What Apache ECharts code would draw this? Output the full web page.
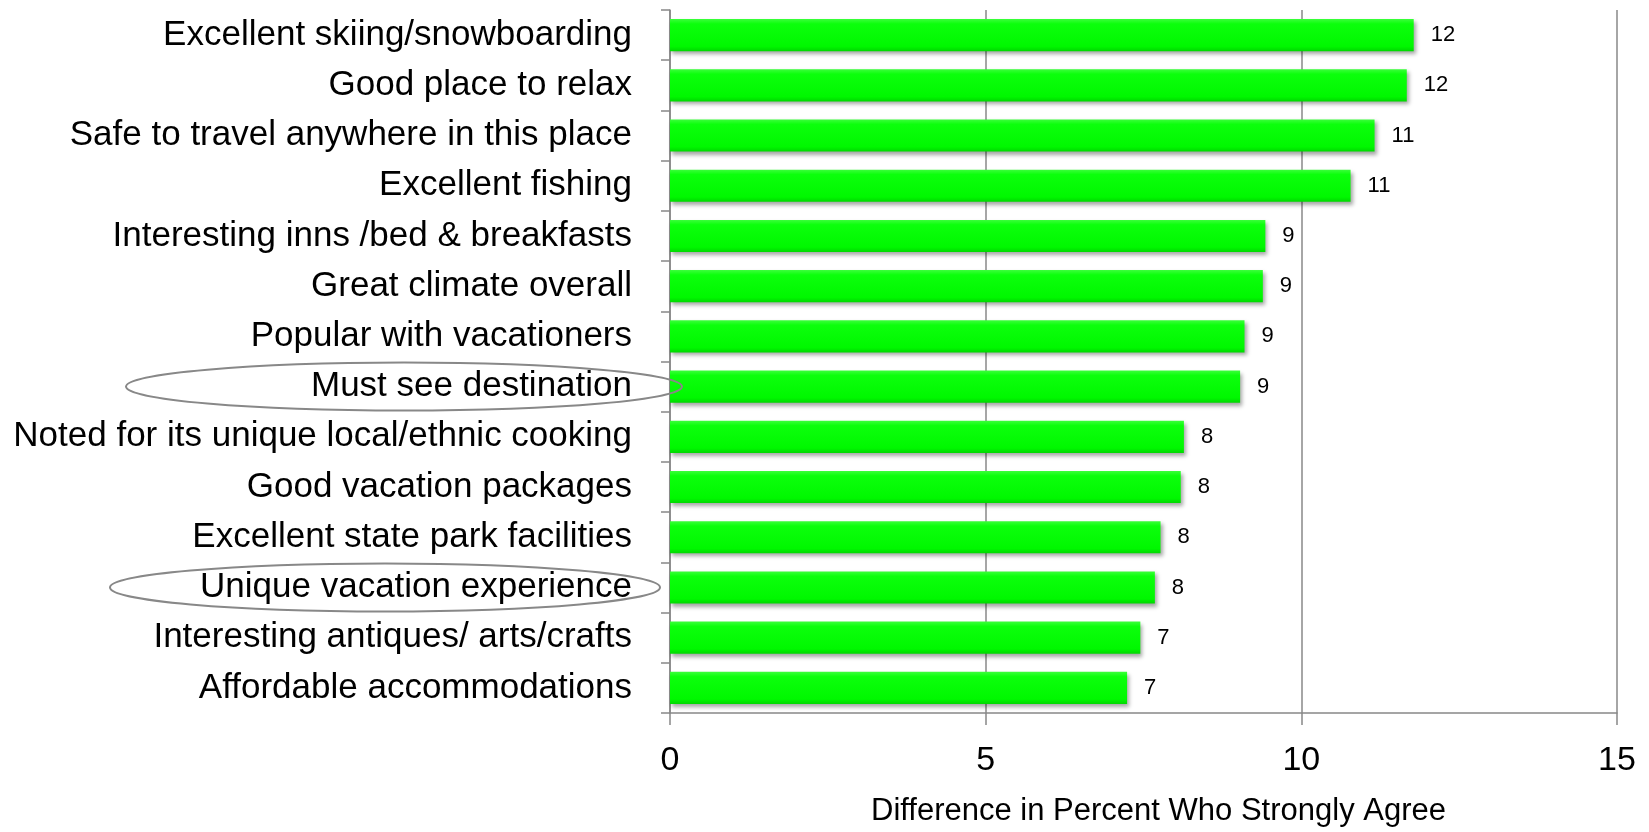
<!DOCTYPE html>
<html><head><meta charset="utf-8">
<script src="https://cdn.jsdelivr.net/npm/echarts@6/dist/echarts.min.js"></script>
<style>html,body{margin:0;padding:0;background:#fff}#c{width:1649px;height:832px}</style>
</head><body><div id="c"></div>
<script>
const categories = [
  "Excellent skiing/snowboarding",
  "Good place to relax",
  "Safe to travel anywhere in this place",
  "Excellent fishing",
  "Interesting inns /bed & breakfasts",
  "Great climate overall",
  "Popular with vacationers",
  "Must see destination",
  "Noted for its unique local/ethnic cooking",
  "Good vacation packages",
  "Excellent state park facilities",
  "Unique vacation experience",
  "Interesting antiques/ arts/crafts",
  "Affordable accommodations"
];
const values = [11.78, 11.67, 11.16, 10.78, 9.43, 9.39, 9.10, 9.03, 8.14, 8.09, 7.77, 7.68, 7.45, 7.24];
const xTicks = [0, 5, 10, 15];
const highlighted = ["Must see destination", "Unique vacation experience"];
const axisTitle = "Difference in Percent Who Strongly Agree";

const chart = echarts.init(document.getElementById('c'));
const gridLeft = 670, gridRight = 32;
chart.setOption({
  animation: false,
  grid: {left: gridLeft, right: gridRight, top: 10, bottom: 119, containLabel: false, outerBoundsMode: 'none'},
  xAxis: {
    type: 'value', min: xTicks[0], max: xTicks[xTicks.length-1], interval: 5,
    name: axisTitle, nameLocation: 'middle', nameGap: 83,
    nameTextStyle: {fontFamily: 'Liberation Sans', fontSize: 31, color: '#000', padding: [0, 0, 0, 30]},
    axisLine: {show: true, lineStyle: {color: '#888', width: 1.5}},
    axisTick: {show: true, length: 12, lineStyle: {color: '#888', width: 1.5}},
    axisLabel: {fontFamily: 'Liberation Sans', fontSize: 34, color: '#000', margin: 31},
    splitLine: {show: true, lineStyle: {color: '#888', width: 1.5}}
  },
  yAxis: {
    type: 'category', data: categories, inverse: true,
    axisLine: {show: true, lineStyle: {color: '#888', width: 1.5}},
    axisTick: {show: true, length: 9, lineStyle: {color: '#888', width: 1.5}},
    axisLabel: {fontFamily: 'Liberation Sans', fontSize: 35, color: '#000', margin: 38}
  },
  series: [{
    type: 'bar', data: values, barCategoryGap: '36%',
    itemStyle: {
      color: new echarts.graphic.LinearGradient(0, 0, 0, 1, [
        {offset: 0, color: '#3aff3a'}, {offset: 0.15, color: '#0cff0c'},
        {offset: 0.85, color: '#00f800'}, {offset: 1, color: '#00d800'}]),
      shadowColor: 'rgba(0,0,0,0.35)', shadowBlur: 4, shadowOffsetX: 2, shadowOffsetY: 3
    },
    label: {show: true, position: 'right', distance: 17, fontFamily: 'Liberation Sans', fontSize: 22, color: '#000',
      formatter: p => Math.round(p.value)}
  }]
});

const ellipseSpec = [{cx: 404, rx: 278}, {cx: 385, rx: 275}];
const graphics = highlighted.map((cat, i) => {
  const cy = chart.convertToPixel({yAxisIndex: 0}, cat);
  return {type: 'ellipse', shape: {cx: ellipseSpec[i].cx, cy: cy, rx: ellipseSpec[i].rx, ry: 24},
    style: {fill: 'none', stroke: '#888', lineWidth: 2}, z: 100};
});
chart.setOption({graphic: graphics});
</script></body></html>
